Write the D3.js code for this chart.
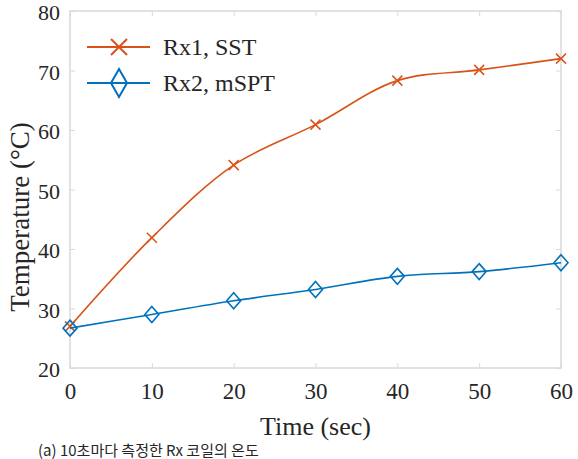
<!DOCTYPE html>
<html><head><meta charset="utf-8">
<script src="https://cdn.jsdelivr.net/npm/d3@7"></script>
<style>
html,body{margin:0;padding:0;background:#fff;overflow:hidden;}
svg{display:block;}
svg text{font-family:"Liberation Serif","Times New Roman",serif !important;fill:#262626;}
svg text.cap{font-family:"Noto Sans CJK KR",sans-serif !important;}
</style></head>
<body>
<script>
const times = [0, 10, 20, 30, 40, 50, 60];
const rx1SST = [27, 41.9, 54.1, 60.9, 68.3, 70.1, 72.0];
const rx2mSPT = [26.7, 29.0, 31.3, 33.2, 35.4, 36.2, 37.7];
const seriesNames = ["Rx1, SST", "Rx2, mSPT"];
const seriesColors = ["#D95319", "#0072BD"];
const xTicks = [0, 10, 20, 30, 40, 50, 60];
const yTicks = [20, 30, 40, 50, 60, 70, 80];
const xLabel = "Time (sec)";
const yLabel = "Temperature (°C)";
const caption = "(a) 10초마다 측정한 Rx 코일의 온도";

const W = 578, H = 459;
const m = {left: 70, right: 17, top: 11, bottom: 91};
const svg = d3.select("body").append("svg").attr("width", W).attr("height", H);

const x = d3.scaleLinear().domain([0, 60]).range([m.left, W - m.right]);
const y = d3.scaleLinear().domain([20, 80]).range([H - m.bottom, m.top]);

const frameColor = "#d9d9d9";
svg.append("rect").attr("x", x(0)).attr("y", y(80))
  .attr("width", x(60) - x(0)).attr("height", y(20) - y(80))
  .attr("fill", "none").attr("stroke", frameColor).attr("stroke-width", 1.5);

const xAxis = svg.append("g").attr("transform", `translate(0,${y(20)})`)
  .call(d3.axisBottom(x).tickValues(xTicks).tickSize(-5).tickPadding(15).tickFormat(d3.format("d")));
const xAxisTop = svg.append("g").attr("transform", `translate(0,${y(80)})`)
  .call(d3.axisTop(x).tickValues(xTicks).tickSize(-5).tickFormat(""));
const yAxis = svg.append("g").attr("transform", `translate(${x(0)},0)`)
  .call(d3.axisLeft(y).tickValues(yTicks).tickSize(-5).tickPadding(10).tickFormat(d3.format("d")));
const yAxisR = svg.append("g").attr("transform", `translate(${x(60)},0)`)
  .call(d3.axisRight(y).tickValues(yTicks).tickSize(-5).tickFormat(""));
[xAxis, xAxisTop, yAxis, yAxisR].forEach(g => {
  g.attr("font-size", 23);
  g.select(".domain").remove();
  g.selectAll(".tick line").attr("stroke", frameColor).attr("stroke-width", 1);
});
yAxis.attr("font-size", 22);
yAxis.selectAll(".tick text").attr("dy", "0.4em");

const line = d3.line().x((d, i) => x(times[i])).y(d => y(d)).curve(d3.curveCatmullRom.alpha(0.5));

const cross = (g, cx, cy, s, col, w) => {
  g.append("path").attr("d", `M${cx - s},${cy - s}L${cx + s},${cy + s}M${cx - s},${cy + s}L${cx + s},${cy - s}`)
    .attr("stroke", col).attr("stroke-width", w).attr("fill", "none");
};
const diamond = (g, cx, cy, sx, sy, col, w) => {
  g.append("path").attr("d", `M${cx},${cy - sy}L${cx + sx},${cy}L${cx},${cy + sy}L${cx - sx},${cy}Z`)
    .attr("stroke", col).attr("stroke-width", w).attr("fill", "none");
};

svg.append("path").datum(rx1SST).attr("d", line).attr("fill", "none")
  .attr("stroke", seriesColors[0]).attr("stroke-width", 1.6);
const mk = svg.append("g");
rx1SST.forEach((v, i) => cross(mk, x(times[i]), y(v), 5, seriesColors[0], 1.5));

svg.append("path").datum(rx2mSPT).attr("d", line).attr("fill", "none")
  .attr("stroke", seriesColors[1]).attr("stroke-width", 1.6);
rx2mSPT.forEach((v, i) => diamond(mk, x(times[i]), y(v), 7, 8, seriesColors[1], 1.6));

// legend
const lg = svg.append("g");
const legY = [47, 83];
seriesNames.forEach((n, i) => {
  lg.append("line").attr("x1", 87).attr("x2", 150).attr("y1", legY[i]).attr("y2", legY[i])
    .attr("stroke", seriesColors[i]).attr("stroke-width", 2);
  if (i === 0) cross(lg, 119, legY[i], 8, seriesColors[0], 2);
  else diamond(lg, 119, legY[i], 8, 14, seriesColors[1], 2);
  lg.append("text").attr("x", 163).attr("y", legY[i] + 8).attr("font-size", 24).text(n);
});

// axis labels
svg.append("text").attr("x", (x(0) + x(60)) / 2).attr("y", 435).attr("text-anchor", "middle")
  .attr("font-size", 26).text(xLabel);
svg.append("text").attr("transform", `translate(29,217) rotate(-90)`)
  .attr("text-anchor", "middle").attr("font-size", 27).text(yLabel);

// caption
svg.append("text").attr("class", "cap").attr("x", 38).attr("y", 456).attr("font-size", 15)
  .text(caption);
</script>
</body></html>
